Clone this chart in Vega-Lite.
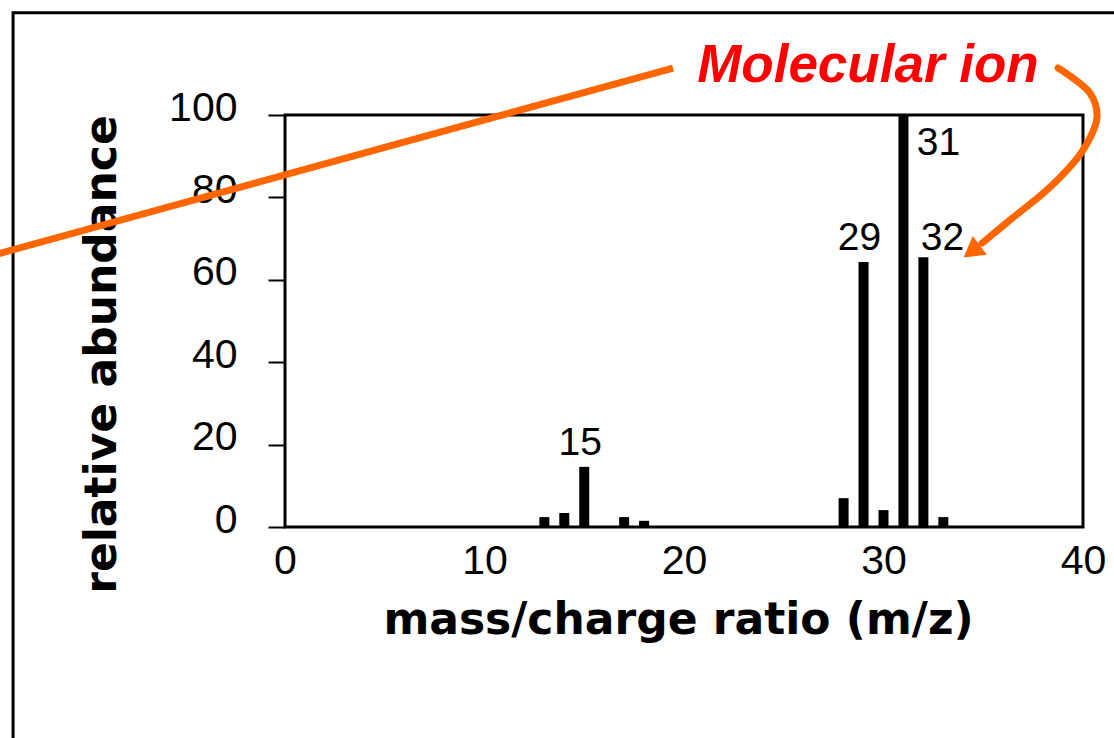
{
  "$schema": "https://vega.github.io/schema/vega-lite/v6.json",
  "autosize": "none",
  "width": 798,
  "height": 412,
  "padding": {"left": 285, "top": 115, "right": 31, "bottom": 211},
  "background": "white",
  "config": {
    "view": {"stroke": "black", "strokeWidth": 3},
    "axis": {"grid": false}
  },
  "datasets": {
    "spectrum": [
      {"mz": 13, "abundance": 2.4, "label": ""},
      {"mz": 14, "abundance": 3.4, "label": ""},
      {"mz": 15, "abundance": 14.6, "label": "15"},
      {"mz": 17, "abundance": 2.4, "label": ""},
      {"mz": 18, "abundance": 1.5, "label": ""},
      {"mz": 28, "abundance": 7.0, "label": ""},
      {"mz": 29, "abundance": 64.3, "label": "29"},
      {"mz": 30, "abundance": 4.1, "label": ""},
      {"mz": 31, "abundance": 100, "label": "31"},
      {"mz": 32, "abundance": 65.5, "label": "32"},
      {"mz": 33, "abundance": 2.4, "label": ""}
    ],
    "frame": [{"x1": -13.63, "x2": 46, "y1": 124.8, "y2": -60}],
    "straight": [
      {"x": -14.54, "y": 66.1, "o": 1},
      {"x": 19.45, "y": 111.4, "o": 2}
    ],
    "curve": [
      {"x": 38.75, "y": 111.4, "o": 1},
      {"x": 40.35, "y": 105.3, "o": 2},
      {"x": 40.70, "y": 99.5, "o": 3},
      {"x": 40.00, "y": 91.5, "o": 4},
      {"x": 38.35, "y": 82.5, "o": 5},
      {"x": 36.34, "y": 74.5, "o": 6},
      {"x": 34.94, "y": 68.9, "o": 7}
    ],
    "head": [{"x": 34.42, "y": 66.9}],
    "note": [{"x": 29.22, "y": 108.0, "text": "Molecular ion"}]
  },
  "layer": [
    {
      "data": {"name": "spectrum"},
      "mark": {"type": "bar", "size": 10, "color": "black"},
      "encoding": {
        "x": {
          "field": "mz", "type": "quantitative",
          "scale": {"domain": [0, 40], "nice": false, "zero": false, "padding": 0},
          "axis": {
            "values": [0, 10, 20, 30, 40],
            "title": "mass/charge ratio (m/z)",
            "domain": false,
            "ticks": false,
            "labelPadding": 14,
            "labelFont": "Liberation Sans",
            "labelFontSize": 41,
            "labelColor": "black",
            "labelFlush": false,
            "titleFont": "DejaVu Sans",
            "titleFontWeight": "bold",
            "titleFontSize": 44,
            "titleColor": "black",
            "titleX": 393,
            "titleY": 106,
            "titleAlign": "center",
            "titleBaseline": "alphabetic"
          }
        },
        "y": {
          "field": "abundance", "type": "quantitative",
          "scale": {"domain": [0, 100], "nice": false, "padding": 0},
          "axis": {
            "values": [0, 20, 40, 60, 80, 100],
            "title": "relative abundance",
            "domain": false,
            "ticks": true,
            "tickSize": 17,
            "tickWidth": 2,
            "tickColor": "black",
            "labelPadding": 31,
            "labelOffset": -7,
            "labelFont": "Liberation Sans",
            "labelFontSize": 41,
            "labelColor": "black",
            "labelFlush": false,
            "titleFont": "DejaVu Sans",
            "titleFontWeight": "bold",
            "titleFontSize": 44,
            "titleColor": "black",
            "titleAngle": -90,
            "titleX": -170,
            "titleY": 239,
            "titleAlign": "center",
            "titleBaseline": "alphabetic"
          }
        }
      }
    },
    {
      "data": {"name": "spectrum"},
      "transform": [{"filter": "datum.label == '15' || datum.label == '29'"}],
      "mark": {"type": "text", "font": "Liberation Sans", "fontSize": 39, "color": "black", "baseline": "alphabetic", "align": "center", "dy": -12, "dx": -4},
      "encoding": {
        "x": {"field": "mz", "type": "quantitative"},
        "y": {"field": "abundance", "type": "quantitative"},
        "text": {"field": "label"}
      }
    },
    {
      "data": {"name": "spectrum"},
      "transform": [{"filter": "datum.label == '31'"}],
      "mark": {"type": "text", "font": "Liberation Sans", "fontSize": 39, "color": "black", "baseline": "alphabetic", "align": "center", "dx": 35, "dy": 40},
      "encoding": {
        "x": {"field": "mz", "type": "quantitative"},
        "y": {"field": "abundance", "type": "quantitative"},
        "text": {"field": "label"}
      }
    },
    {
      "data": {"name": "spectrum"},
      "transform": [{"filter": "datum.label == '32'"}],
      "mark": {"type": "text", "font": "Liberation Sans", "fontSize": 39, "color": "black", "baseline": "alphabetic", "align": "center", "dx": 19, "dy": -7},
      "encoding": {
        "x": {"field": "mz", "type": "quantitative"},
        "y": {"field": "abundance", "type": "quantitative"},
        "text": {"field": "label"}
      }
    },
    {
      "data": {"name": "frame"},
      "mark": {"type": "rect", "fill": null, "fillOpacity": 0, "stroke": "black", "strokeWidth": 3, "clip": false},
      "encoding": {
        "x": {"field": "x1", "type": "quantitative"},
        "x2": {"field": "x2"},
        "y": {"field": "y1", "type": "quantitative"},
        "y2": {"field": "y2"}
      }
    },
    {
      "data": {"name": "straight"},
      "mark": {"type": "line", "color": "#FF6600", "strokeWidth": 7, "clip": false},
      "encoding": {
        "x": {"field": "x", "type": "quantitative"},
        "y": {"field": "y", "type": "quantitative"},
        "order": {"field": "o"}
      }
    },
    {
      "data": {"name": "curve"},
      "mark": {"type": "line", "color": "#FF6600", "strokeWidth": 7, "interpolate": "catmull-rom", "strokeCap": "round", "clip": false},
      "encoding": {
        "x": {"field": "x", "type": "quantitative"},
        "y": {"field": "y", "type": "quantitative"},
        "order": {"field": "o"}
      }
    },
    {
      "data": {"name": "head"},
      "mark": {"type": "point", "shape": "triangle-up", "filled": true, "color": "#FF6600", "opacity": 1, "size": 550, "angle": 233, "clip": false},
      "encoding": {
        "x": {"field": "x", "type": "quantitative"},
        "y": {"field": "y", "type": "quantitative"}
      }
    },
    {
      "data": {"name": "note"},
      "mark": {"type": "text", "font": "Liberation Sans", "fontSize": 53, "fontWeight": "bold", "fontStyle": "italic", "color": "#FF0000", "align": "center", "baseline": "alphabetic", "clip": false},
      "encoding": {
        "x": {"field": "x", "type": "quantitative"},
        "y": {"field": "y", "type": "quantitative"},
        "text": {"field": "text"}
      }
    }
  ]
}
